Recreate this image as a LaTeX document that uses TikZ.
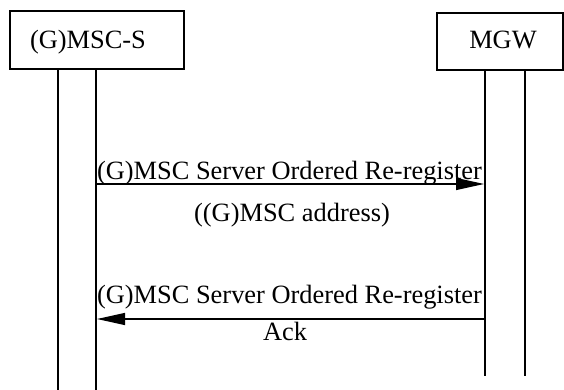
\documentclass[tikz,border=0pt]{standalone}
\usepackage{fontspec}
\setmainfont{Liberation Serif}
\usetikzlibrary{arrows.meta}
\begin{document}
\begin{tikzpicture}[x=1pt,y=-1pt,
  entity/.style={draw,line width=1.5pt,inner sep=0pt},
  life/.style={line width=1.2pt},
  msg/.style={line width=1.2pt,-{Triangle[length=28pt,width=12pt]}},
  lbl/.style={font=\fontsize{26.4}{30}\selectfont,anchor=base,inner sep=0pt}]
\useasboundingbox (0,0) rectangle (564,390);
% entities
\node[entity,minimum width=174pt,minimum height=58pt] (msc) at (97,40) {};
\node[lbl] (msclbl) at (88,49) {(G)MSC-S};
\node[entity,minimum width=126pt,minimum height=57pt] (mgw) at (500,41.5) {};
\node[lbl] (mgwlbl) at (503,49) {MGW};
% lifeline coordinates
\coordinate (a1t) at (58,69);  \coordinate (a1b) at (58,390);
\coordinate (a2t) at (96,69);  \coordinate (a2b) at (96,390);
\coordinate (b1t) at (485,70); \coordinate (b1b) at (485,376);
\coordinate (b2t) at (525,70); \coordinate (b2b) at (525,376);
\draw[life] (a1t) -- (a1b);
\draw[life] (a2t) -- (a2b);
\draw[life] (b1t) -- (b1b);
\draw[life] (b2t) -- (b2b);
% message endpoints
\coordinate (m1s) at (97,184);  \coordinate (m1e) at (484,184);
\coordinate (m2s) at (484,319); \coordinate (m2e) at (97,319);
\draw[msg] (m1s) -- (m1e);
\draw[msg] (m2s) -- (m2e);
\node[lbl] (l1) at (289.5,179) {(G)MSC Server Ordered Re-register};
\node[lbl] (l1b) at (292,221) {((G)MSC address)};
\node[lbl] (l2) at (289.5,303) {(G)MSC Server Ordered Re-register};
\node[lbl] (l2b) at (285,340) {Ack};
\end{tikzpicture}
\end{document}
